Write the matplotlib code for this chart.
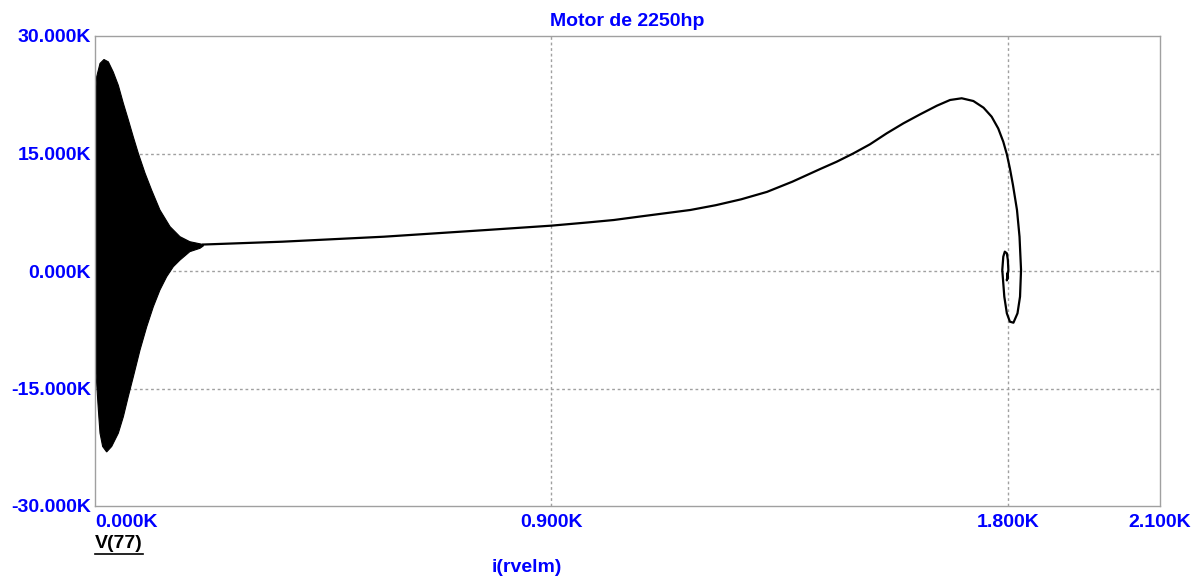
import numpy as np
import matplotlib
matplotlib.use("Agg")
import matplotlib.pyplot as plt
from matplotlib.lines import Line2D

plt.rcParams['font.family'] = ['Liberation Sans', 'DejaVu Sans']
plt.rcParams['font.weight'] = 'bold'

BLUE = '#0000ff'
GRAY = '#a0a0a0'

# envelope of the dense start-up oscillation (K units)
upper_x = [0.0, 0.0, 0.0033, 0.0099, 0.0177, 0.0263, 0.036, 0.046, 0.0559,
           0.0657, 0.0756, 0.0855, 0.0986, 0.1118, 0.128, 0.148, 0.1676,
           0.187, 0.2136]
upper_y = [-9.2, 21.8, 24.8, 26.5, 27.0, 26.7, 25.4, 23.7, 21.4,
           19.3, 17.1, 15.0, 12.5, 10.3, 7.79, 5.66, 4.38,
           3.74, 3.38]
lower_x = [0.0, 0.002, 0.0066, 0.0099, 0.0151, 0.023, 0.0329, 0.046, 0.0559,
           0.0657, 0.0756, 0.0887, 0.102, 0.115, 0.128, 0.1413, 0.1544,
           0.1676, 0.187, 0.207, 0.2136]
lower_y = [-9.2, -13.1, -17.7, -20.7, -22.4, -23.1, -22.4, -20.7, -18.6,
           -16.0, -13.5, -10.1, -7.11, -4.56, -2.43, -0.73, 0.55,
           1.40, 2.47, 2.9, 3.2]

# trajectory after the transient
curve_x = [0.2136, 0.369, 0.570, 0.771, 0.900, 0.972, 1.023, 1.073, 1.174, 1.224,
           1.274, 1.325, 1.375, 1.430,
           1.4625, 1.495, 1.528, 1.561, 1.594, 1.627, 1.660, 1.686, 1.709, 1.732,
           1.752, 1.768, 1.781, 1.791, 1.798, 1.804, 1.810, 1.818, 1.823, 1.826,
           1.824, 1.819, 1.811, 1.804, 1.798, 1.793, 1.789, 1.791, 1.794, 1.798,
           1.800, 1.801, 1.799, 1.798, 1.800, 1.799]
curve_y = [3.38, 3.74, 4.38, 5.23, 5.79, 6.2, 6.51, 6.94, 7.79, 8.4,
           9.15, 10.1, 11.4, 13.02,
           13.95, 15.0, 16.17, 17.57, 18.85, 20.0, 21.1, 21.83, 22.05, 21.7,
           20.85, 19.7, 18.2, 16.5, 14.9, 13.1, 11.0, 7.79, 4.38, 0.13,
           -3.28, -5.4, -6.6, -6.47, -5.4, -3.28, 0.13, 1.83, 2.47, 2.26,
           1.40, 0.13, -0.73, -1.2, -0.2, -1.0]

x_ticks = [0.0, 0.9, 1.8, 2.1]
x_labels = ['0.000K', '0.900K', '1.800K', '2.100K']
y_ticks = [-30, -15, 0, 15, 30]
y_labels = ['-30.000K', '-15.000K', '0.000K', '15.000K', '30.000K']

W, H = 1196, 578
fig = plt.figure(figsize=(W / 100, H / 100), dpi=100)
ax = fig.add_axes([95 / W, 1 - 506 / H, (1160 - 95) / W, (506 - 36) / H])

# black mass of the oscillation
ax.fill(upper_x + lower_x[::-1], upper_y + lower_y[::-1], color='black', lw=0.8)
ax.plot(curve_x, curve_y, color='black', lw=1.6, solid_joinstyle='round')

ax.set_xlim(0, 2.1)
ax.set_ylim(-30, 30)

for gx in [0.9, 1.8]:
    ax.axvline(gx, color=GRAY, lw=1, ls=(0, (2, 2)), zorder=0)
for gy in [-15, 0, 15]:
    ax.axhline(gy, color=GRAY, lw=1, ls=(0, (2, 2)), zorder=0)

for s in ax.spines.values():
    s.set_color(GRAY)
    s.set_linewidth(1)

ax.set_xticks(x_ticks)
ax.set_xticklabels(x_labels)
ax.set_yticks(y_ticks)
ax.set_yticklabels(y_labels)
ax.tick_params(length=0, labelsize=14, labelcolor=BLUE, pad=3)
ax.tick_params(axis='x', pad=6)
for lbl in ax.get_xticklabels() + ax.get_yticklabels():
    lbl.set_fontweight('bold')
ax.get_xticklabels()[0].set_horizontalalignment('left')

fig.text(627 / W, 1 - 21 / H, 'Motor de 2250hp', color=BLUE, fontsize=14,
         fontweight='bold', ha='center', va='center')
fig.text(527 / W, 1 - 568 / H, 'i(rvelm)', color=BLUE, fontsize=14,
         fontweight='bold', ha='center', va='center')
vt = fig.text(95 / W, 1 - 544 / H, 'V(77)', color='black', fontsize=14,
              fontweight='bold', ha='left', va='center')

# underline for the trace label
fig.canvas.draw()
bb = vt.get_window_extent()
uy = (bb.y0 - 1) / H
fig.add_artist(Line2D([bb.x0 / W, bb.x1 / W], [uy, uy], color='black', lw=1.2))

fig.savefig('out.png', dpi=100)
